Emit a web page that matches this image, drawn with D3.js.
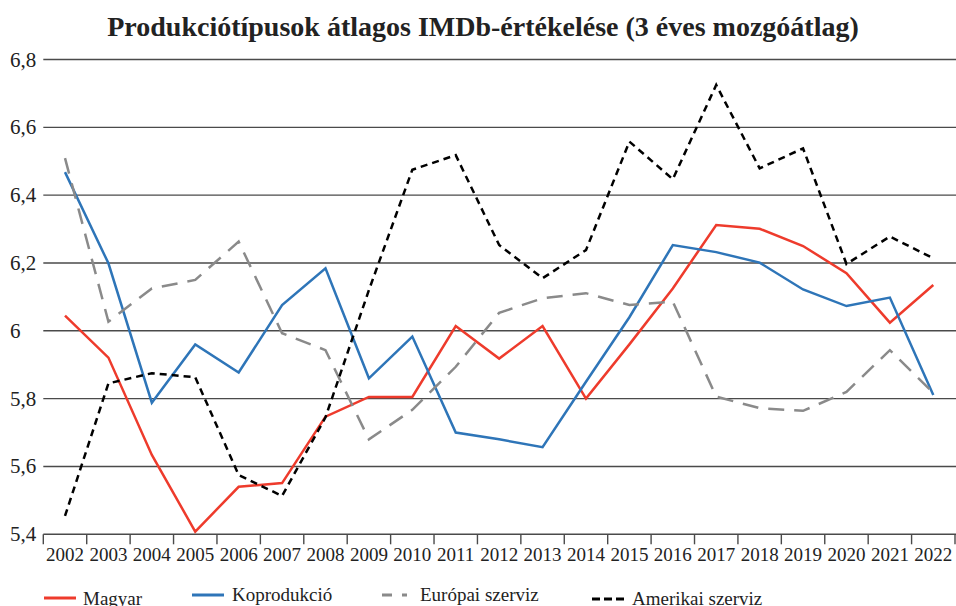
<!DOCTYPE html>
<html>
<head>
<meta charset="utf-8">
<script src="https://cdn.jsdelivr.net/npm/d3@7"></script>
<style>
  body { margin: 0; background: #fff; }
  text { font-family: "Liberation Serif", "Times New Roman", serif; fill: #222; }
</style>
</head>
<body>
<div id="chart"></div>
<script>
// set the dimensions of the page
let width = 956
let height = 606

// data
let years = ["2002", "2003", "2004", "2005", "2006", "2007", "2008", "2009", "2010", "2011", "2012",
    "2013", "2014", "2015", "2016", "2017", "2018", "2019", "2020", "2021", "2022"]
let magyar = [6.045, 5.921, 5.634, 5.408, 5.54, 5.551, 5.747, 5.805, 5.805, 6.014, 5.918,
    6.014, 5.80, 5.96, 6.125, 6.312, 6.301, 6.25, 6.17, 6.024, 6.135]
let koprodukcio = [6.468, 6.199, 5.788, 5.96, 5.877, 6.076, 6.184, 5.86, 5.983, 5.70, 5.68,
    5.657, 5.85, 6.04, 6.253, 6.232, 6.201, 6.122, 6.073, 6.098, 5.811]
let europai = [6.509, 6.027, 6.125, 6.15, 6.263, 5.993, 5.943, 5.68, 5.767, 5.894, 6.053,
    6.096, 6.111, 6.076, 6.086, 5.806, 5.772, 5.764, 5.82, 5.943, 5.817]
let amerikai = [5.454, 5.845, 5.875, 5.863, 5.575, 5.513, 5.745, 6.12, 6.475, 6.518, 6.253,
    6.155, 6.238, 6.558, 6.447, 6.725, 6.479, 6.538, 6.197, 6.278, 6.214]
let yTicks = [5.4, 5.6, 5.8, 6.0, 6.2, 6.4, 6.6, 6.8]

let series = [
    { name: "Magyar", values: magyar, color: "#ee3b2c", dash: null },
    { name: "Koprodukció", values: koprodukcio, color: "#2e75b8", dash: null },
    { name: "Európai szerviz", values: europai, color: "#8a8a8a", dash: "16,10" },
    { name: "Amerikai szerviz", values: amerikai, color: "#000", dash: "7,5" }
]

let svg = d3.select("#chart")
    .append("svg")
    .attr("width", width)
    .attr("height", height)

let x = d3.scaleBand().domain(years).range([43.3, 955])
let y = d3.scaleLinear().domain([5.4, 6.8]).range([534.3, 59.5])

// title
svg.append("text")
    .attr("x", 483)
    .attr("y", 36)
    .attr("text-anchor", "middle")
    .style("font-size", "28px")
    .style("font-weight", "bold")
    .text("Produkciótípusok átlagos IMDb-értékelése (3 éves mozgóátlag)")

// horizontal grid lines
svg.selectAll(".grid")
    .data(yTicks)
    .enter()
    .append("line")
    .attr("x1", 43.3)
    .attr("x2", width)
    .attr("y1", d => y(d))
    .attr("y2", d => y(d))
    .attr("stroke", "#4a4a4a")
    .attr("stroke-width", 1.4)

// y labels, left aligned
svg.selectAll(".ylab")
    .data(yTicks)
    .enter()
    .append("text")
    .attr("x", 10)
    .attr("y", d => y(d) + 7)
    .style("font-size", "21px")
    .text(d => d3.format(".1f")(d).replace(".0", "").replace(".", ","))

// x axis ticks at band edges
let edges = years.map(d => x(d)).concat([x.range()[1]])
svg.selectAll(".xtick")
    .data(edges)
    .enter()
    .append("line")
    .attr("x1", d => d)
    .attr("x2", d => d)
    .attr("y1", y(5.4))
    .attr("y2", y(5.4) + 10)
    .attr("stroke", "#4a4a4a")
    .attr("stroke-width", 1.4)

svg.selectAll(".xlab")
    .data(years)
    .enter()
    .append("text")
    .attr("x", d => x(d) + x.bandwidth() / 2)
    .attr("y", 561)
    .attr("text-anchor", "middle")
    .style("font-size", "19px")
    .text(d => d)

// the lines
let line = d3.line()
    .x((d, i) => x(years[i]) + x.bandwidth() / 2)
    .y(d => y(d))

svg.selectAll(".series")
    .data(series)
    .enter()
    .append("path")
    .attr("d", d => line(d.values))
    .attr("fill", "none")
    .attr("stroke", d => d.color)
    .attr("stroke-width", 2.5)
    .attr("stroke-dasharray", d => d.dash)

// legend (the items sit at slightly different heights in the original)
let legendX = [44, 192, 382, 592]
let legendLineY = [598, 595, 595, 599]
let legendTextY = [605, 601, 601, 605]
let legendDash = [null, null, "10,10,5,100", "8,4"]
let legend = svg.selectAll(".legend")
    .data(series)
    .enter()
    .append("g")
    .attr("transform", (d, i) => "translate(" + legendX[i] + ",0)")

legend.append("line")
    .attr("x1", 0)
    .attr("x2", (d, i) => i == 2 ? 25 : 32)
    .attr("y1", (d, i) => legendLineY[i])
    .attr("y2", (d, i) => legendLineY[i])
    .attr("stroke", d => d.color)
    .attr("stroke-width", 3)
    .attr("stroke-dasharray", (d, i) => legendDash[i])

legend.append("text")
    .attr("x", (d, i) => i == 2 ? 38 : (i == 0 ? 39 : 40))
    .attr("y", (d, i) => legendTextY[i])
    .style("font-size", "19px")
    .text(d => d.name)
</script>
</body>
</html>
